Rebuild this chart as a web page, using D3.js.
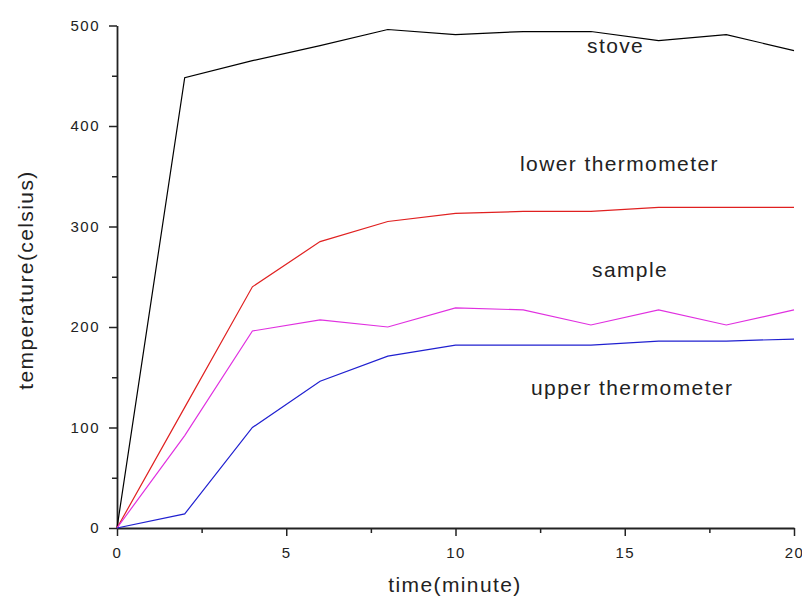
<!DOCTYPE html>
<html>
<head>
<meta charset="utf-8">
<script src="https://cdn.jsdelivr.net/npm/d3@7"></script>
<style>
  body { margin: 0; background: #fff; }
  text { font-family: "Liberation Sans", Arial, sans-serif; fill: #222; }
</style>
</head>
<body>
<div id="chart"></div>
<script>
// data
var times = [0, 2, 4, 6, 8, 10, 12, 14, 16, 18, 20];
var stove = [0, 448, 465, 480, 496, 491, 494, 494, 485, 491, 475];
var lower = [0, 120, 240, 285, 305, 313, 315, 315, 319, 319, 319];
var sample = [0, 92, 196, 207, 200, 219, 217, 202, 217, 202, 217];
var upper = [0, 14, 100, 146, 171, 182, 182, 182, 186, 186, 188];
var xTicks = [0, 5, 10, 15, 20];
var yTicks = [0, 100, 200, 300, 400, 500];

var w = 802;
var h = 601;

var svg = d3.select("#chart")
  .append("svg")
  .attr("width", w)
  .attr("height", h);

var xScale = d3.scaleLinear()
  .domain([0, 20])
  .range([117, 794]);

var yScale = d3.scaleLinear()
  .domain([0, 500])
  .range([528, 25.5]);

// minor ticks
svg.append("g")
  .attr("transform", "translate(0,528)")
  .call(d3.axisBottom(xScale).tickValues([2.5, 7.5, 12.5, 17.5]).tickSize(5).tickFormat(""))
  .call(g => g.select(".domain").remove());

svg.append("g")
  .attr("transform", "translate(117,0)")
  .call(d3.axisLeft(yScale).tickValues([50, 150, 250, 350, 450]).tickSize(5).tickFormat(""))
  .call(g => g.select(".domain").remove());

//Create X axis
svg.append("g")
  .attr("class", "x axis")
  .attr("transform", "translate(0,528)")
  .call(d3.axisBottom(xScale).tickValues(xTicks).tickSize(8).tickSizeOuter(0).tickPadding(11));

//Create Y axis
svg.append("g")
  .attr("class", "y axis")
  .attr("transform", "translate(117,0)")
  .call(d3.axisLeft(yScale).tickValues(yTicks).tickSize(8).tickSizeOuter(0).tickPadding(9));

svg.selectAll(".tick line").attr("stroke", "#222").attr("stroke-width", 1.5);
svg.selectAll(".domain").attr("stroke", "#222").attr("stroke-width", 1.8);
svg.selectAll(".tick text")
  .style("font-size", "15px")
  .style("letter-spacing", "1.5px")
  .style("fill", "#222");

var line = d3.line()
  .x(function(d, i) { return xScale(times[i]); })
  .y(function(d) { return yScale(d); });

var series = [
  { name: "stove", values: stove, color: "#000000" },
  { name: "lower", values: lower, color: "#e02020" },
  { name: "sample", values: sample, color: "#e030e0" },
  { name: "upper", values: upper, color: "#2020d0" }
];

svg.selectAll("path.series")
  .data(series)
  .enter()
  .append("path")
  .attr("class", "series")
  .attr("d", function(d) { return line(d.values); })
  .attr("fill", "none")
  .attr("stroke", function(d) { return d.color; })
  .attr("stroke-width", 1.2);

// line labels
var labels = [
  { text: "stove", x: 587, y: 53 },
  { text: "lower thermometer", x: 520, y: 171 },
  { text: "sample", x: 592, y: 277 },
  { text: "upper thermometer", x: 531, y: 395 }
];

svg.selectAll("text.lbl")
  .data(labels)
  .enter()
  .append("text")
  .attr("class", "lbl")
  .attr("x", function(d) { return d.x; })
  .attr("y", function(d) { return d.y; })
  .style("font-size", "21px")
  .style("letter-spacing", "1.4px")
  .text(function(d) { return d.text; });

svg.append("text")
  .attr("text-anchor", "middle")
  .attr("transform", "translate(33,280)rotate(-90)")
  .style("font-size", "21px")
  .style("letter-spacing", "1.4px")
  .text("temperature(celsius)");

svg.append("text")
  .attr("text-anchor", "middle")
  .attr("x", 455)
  .attr("y", 592)
  .style("font-size", "21px")
  .style("letter-spacing", "1.4px")
  .text("time(minute)");
</script>
</body>
</html>
